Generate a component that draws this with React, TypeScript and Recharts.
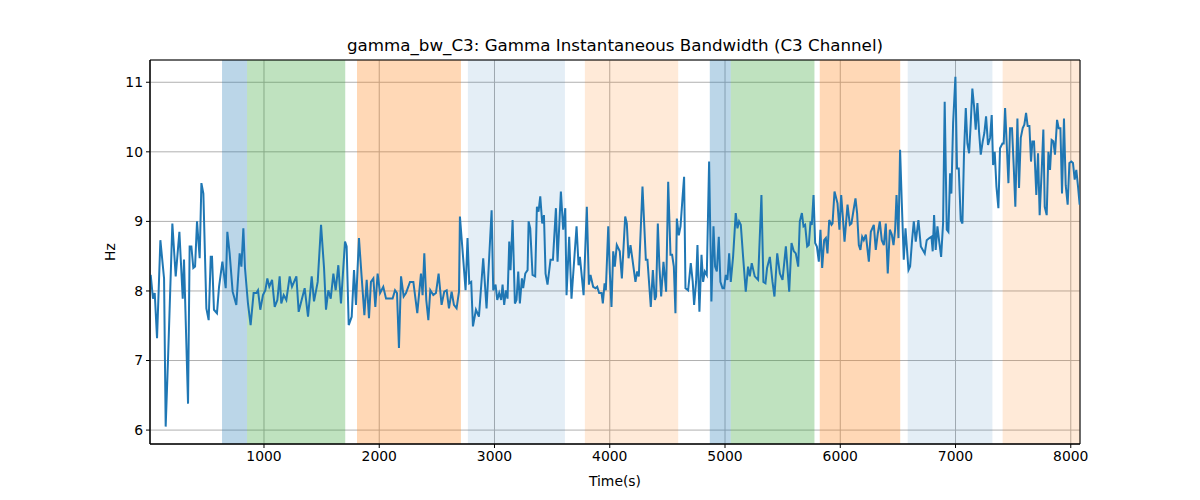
import React from 'react'
import { LineChart, Line, XAxis, YAxis, CartesianGrid, ReferenceArea, Label } from 'recharts'

// [time (s), bandwidth (Hz)], split by stretch of the recording
const seg1 = [
  [17, 8.23], [37, 7.89], [52, 7.97], [72, 7.32], [101, 8.73], [133, 8.18], [147, 6.05], [167, 7.0], [205, 8.97], [234, 8.21],
  [266, 8.85], [295, 7.89], [306, 8.45], [341, 6.38], [355, 8.64], [370, 8.64], [387, 8.33], [402, 8.35], [419, 9.0], [442, 8.47],
  [457, 9.55], [474, 9.4], [500, 7.75], [520, 7.58], [538, 8.49], [549, 8.49], [566, 7.73], [592, 7.68], [610, 8.06], [639, 8.42],
  [668, 8.04], [682, 8.85], [702, 8.54], [728, 7.99], [760, 7.8], [789, 8.54], [804, 8.35], [821, 8.9], [835, 8.33], [861, 7.82],
  [884, 7.51], [910, 7.97], [934, 7.97], [948, 8.01], [968, 7.73], [991, 7.94], [1012, 8.01], [1029, 8.18], [1046, 8.06], [1070, 8.16],
  [1093, 7.77], [1116, 7.87], [1136, 8.21], [1150, 7.82], [1171, 7.94], [1194, 7.87], [1223, 8.21], [1243, 8.06], [1281, 8.21], [1301, 7.7],
  [1330, 7.89], [1353, 8.04], [1382, 7.63],
]
const seg2 = [
  [1414, 8.21], [1434, 7.85], [1466, 8.13], [1495, 8.95], [1521, 8.33], [1538, 7.73], [1558, 8.01], [1579, 7.89], [1602, 8.25], [1622, 8.01],
  [1645, 8.37], [1668, 7.82], [1703, 8.71], [1717, 8.64], [1735, 7.51], [1761, 7.63], [1781, 8.3], [1798, 7.8], [1824, 8.76], [1847, 8.21],
  [1871, 7.65], [1891, 8.16], [1911, 7.61], [1928, 8.13], [1949, 8.18], [1966, 7.77], [1986, 8.25], [2007, 7.97], [2035, 8.06], [2059, 7.89],
  [2087, 7.89], [2116, 7.89], [2137, 8.01], [2154, 7.97], [2171, 7.18], [2189, 8.21], [2212, 7.92], [2232, 7.97], [2267, 8.13], [2296, 8.13],
  [2330, 7.68], [2362, 8.25], [2376, 7.94], [2391, 8.54], [2408, 7.87], [2426, 7.58], [2443, 8.01], [2469, 7.94], [2492, 7.97], [2515, 8.25],
  [2541, 7.8], [2564, 7.99], [2585, 8.01], [2605, 7.75], [2628, 7.99], [2648, 7.8], [2671, 7.75], [2692, 7.99],
]
const seg3 = [
  [2700, 9.07], [2729, 8.45], [2749, 8.01], [2766, 8.76], [2781, 8.11], [2798, 8.13], [2813, 7.49], [2839, 7.73], [2865, 7.63], [2902, 8.47],
  [2931, 7.75], [2975, 9.16], [2989, 8.01], [3009, 8.09], [3024, 7.87], [3041, 7.97], [3058, 7.87], [3070, 8.09], [3084, 7.8], [3099, 8.01],
  [3113, 7.89], [3128, 8.71], [3139, 8.3], [3157, 9.02], [3177, 7.82], [3191, 7.87], [3206, 8.28], [3220, 7.82], [3238, 8.18], [3249, 8.04],
  [3267, 8.25], [3287, 8.3], [3296, 9.0], [3310, 8.9], [3330, 8.23], [3353, 8.21], [3368, 9.21], [3382, 9.14], [3397, 9.36], [3414, 8.97],
  [3429, 9.09], [3443, 8.25], [3460, 8.09], [3486, 8.45], [3507, 8.45], [3533, 9.19], [3547, 8.42], [3576, 9.43], [3596, 8.88], [3614, 9.19],
  [3625, 7.94], [3648, 8.78], [3668, 7.89], [3712, 8.93], [3729, 8.37], [3741, 8.49], [3773, 7.94], [3801, 9.21], [3819, 8.09], [3833, 8.23],
  [3856, 8.06], [3877, 8.04], [3891, 8.06], [3908, 7.97], [3929, 7.97], [3940, 7.82], [3955, 8.11], [3966, 8.01], [3987, 8.93], [4001, 8.25],
  [4015, 7.77], [4030, 8.57],
]
const seg4 = [
  [4044, 8.35], [4061, 8.66], [4087, 8.57], [4105, 8.18], [4134, 9.07], [4148, 8.97], [4163, 8.47], [4180, 8.66], [4194, 8.49], [4223, 8.13],
  [4238, 8.28], [4252, 8.21], [4284, 9.5], [4313, 8.45], [4327, 8.45], [4356, 7.77], [4374, 8.3], [4391, 7.87], [4402, 7.92], [4417, 8.97],
  [4431, 8.35], [4446, 7.92], [4466, 8.42], [4489, 7.99], [4507, 9.57], [4527, 8.52], [4541, 8.52], [4556, 8.35], [4570, 7.68], [4582, 9.04],
  [4599, 8.8], [4614, 8.93], [4631, 9.33], [4645, 9.64], [4657, 8.04], [4680, 8.01], [4703, 8.4], [4720, 8.13], [4732, 7.8], [4749, 8.13],
  [4761, 8.66], [4778, 7.7], [4796, 8.52], [4810, 8.13], [4825, 8.28], [4842, 8.23], [4862, 9.86], [4882, 7.85], [4900, 8.93], [4914, 8.35],
  [4929, 8.28], [4946, 8.78], [4960, 8.13], [4978, 8.04], [4992, 8.04], [5007, 8.23], [5021, 8.16], [5036, 8.54], [5050, 8.13], [5070, 8.49],
  [5093, 9.12], [5108, 8.9], [5122, 9.0], [5137, 8.95], [5157, 8.49], [5180, 7.99], [5200, 8.35], [5215, 8.21], [5232, 8.4], [5258, 8.21],
  [5287, 8.16], [5316, 9.38], [5333, 8.13], [5351, 8.11], [5365, 8.33],
]
const seg5 = [
  [5389, 8.49], [5412, 8.13], [5429, 7.92], [5453, 8.54], [5476, 8.25], [5499, 8.16], [5528, 8.64], [5557, 7.99], [5577, 8.69], [5597, 8.57],
  [5614, 8.54], [5635, 8.35], [5649, 9.0], [5667, 9.12], [5681, 8.93], [5695, 8.95], [5713, 8.64], [5727, 8.66], [5742, 9.0], [5753, 8.95],
  [5768, 9.38], [5782, 8.69], [5797, 8.64], [5814, 8.42], [5828, 8.88], [5843, 8.33], [5860, 8.73], [5875, 8.76], [5889, 8.54], [5904, 9.02],
  [5924, 8.95], [5933, 8.97], [5950, 9.43], [5976, 9.26], [5993, 8.88], [6008, 9.38], [6022, 9.07], [6037, 8.71], [6063, 9.24], [6083, 8.95],
  [6097, 8.97], [6115, 9.16], [6132, 9.33], [6146, 9.12], [6161, 8.66], [6175, 8.59], [6190, 8.78], [6204, 8.73], [6222, 8.81], [6248, 8.42],
  [6265, 8.85], [6291, 8.95], [6308, 8.59], [6326, 8.83], [6343, 9.0], [6360, 8.73], [6378, 8.66], [6395, 8.97], [6412, 8.25], [6430, 8.88],
  [6447, 8.81], [6462, 8.66], [6476, 8.88], [6488, 9.38], [6505, 8.76], [6519, 10.03], [6534, 9.26], [6551, 8.45], [6566, 8.9], [6592, 8.3],
  [6606, 8.35], [6623, 8.73], [6638, 9.0], [6655, 8.71], [6678, 9.02], [6699, 8.64],
]
const seg6 = [
  [6733, 8.54], [6750, 8.73], [6773, 8.76], [6791, 8.78], [6802, 8.57], [6814, 9.09], [6828, 8.59], [6843, 8.93], [6857, 8.73], [6875, 8.49],
  [6892, 8.97], [6906, 10.72], [6924, 8.88], [6938, 8.85], [6953, 9.69], [6964, 9.4], [6979, 10.41], [6999, 11.08], [7013, 9.76], [7028, 9.76],
  [7045, 9.02], [7060, 8.97], [7074, 10.0], [7089, 10.63], [7103, 10.12], [7118, 9.98], [7132, 10.41], [7146, 10.91], [7161, 10.65], [7175, 10.32],
  [7190, 10.7], [7204, 10.29], [7219, 9.96], [7236, 10.15], [7250, 10.27], [7265, 10.51], [7282, 10.1], [7300, 10.2], [7314, 10.53], [7326, 9.81],
  [7340, 10.0], [7355, 9.5], [7372, 9.19], [7386, 10.05], [7407, 10.12], [7418, 10.12], [7430, 10.63], [7444, 10.12], [7459, 9.55], [7473, 10.34],
  [7490, 10.34], [7505, 9.79], [7519, 9.21], [7537, 10.48], [7551, 9.48], [7566, 10.2], [7583, 10.34], [7597, 10.39], [7612, 10.56], [7626, 10.37],
  [7641, 10.37], [7655, 9.86], [7667, 10.15], [7681, 10.15], [7701, 9.38], [7716, 9.98], [7730, 9.09], [7748, 9.74], [7762, 10.32], [7774, 9.21],
  [7791, 9.09], [7806, 10.0], [7820, 9.74], [7834, 10.17], [7849, 10.15], [7863, 9.96], [7881, 10.46], [7895, 10.34], [7910, 10.34], [7924, 9.4],
  [7941, 10.48], [7956, 9.52], [7973, 9.24], [7988, 9.84], [8005, 9.86], [8019, 9.84], [8034, 9.6], [8048, 9.74], [8063, 9.5], [8077, 9.24],
]

// shaded periods: start, end, colour, opacity
const spans: [number, number, string, number][] = [
  [636, 853, '#1f77b4', 0.3],
  [853, 1705, '#2ca02c', 0.3],
  [1807, 2709, '#ff7f0e', 0.3],
  [2769, 3611, '#1f77b4', 0.12],
  [3784, 4594, '#ff7f0e', 0.16],
  [4868, 5050, '#1f77b4', 0.3],
  [5050, 5776, '#2ca02c', 0.3],
  [5822, 6520, '#ff7f0e', 0.3],
  [6585, 7320, '#1f77b4', 0.12],
  [7409, 8080, '#ff7f0e', 0.16],
]

const xTicks = [1000, 2000, 3000, 4000, 5000, 6000, 7000, 8000]
const yTicks = [6, 7, 8, 9, 10, 11]
const xDomain = [11, 8080]
const yDomain = [5.8, 11.32]

const data = [...seg1, ...seg2, ...seg3, ...seg4, ...seg5, ...seg6].map(([t, v]) => ({ t, v }))

const font = '"DejaVu Sans", sans-serif'
const tickStyle = { fontSize: 13.9, fill: '#000', fontFamily: font }

export default function App() {
  return (
    <div style={{ position: 'absolute', left: 0, top: 0, width: 1200, height: 500, background: '#fff', fontFamily: font }}>
      <div style={{ position: 'absolute', left: 150, top: 35, width: 930, textAlign: 'center', fontSize: 16.7, lineHeight: '20px', color: '#000' }}>
        gamma_bw_C3: Gamma Instantaneous Bandwidth (C3 Channel)
      </div>
      <LineChart width={1200} height={500} data={data} margin={{ top: 60, right: 120, bottom: 10, left: 100 }}>
        {spans.map(([a, b, c, o], i) => (
          <ReferenceArea key={i} x1={a} x2={b} fill={c} fillOpacity={o} stroke="none" ifOverflow="hidden" />
        ))}
        <CartesianGrid stroke="#b0b0b0" strokeWidth={1} />
        <XAxis
          dataKey="t"
          type="number"
          domain={xDomain}
          ticks={xTicks}
          allowDataOverflow
          height={46}
          tick={tickStyle}
          tickSize={4}
          tickMargin={3}
          stroke="#000"
          tickLine={{ stroke: '#000' }}
        >
          <Label value="Time(s)" position="insideBottom" offset={4} style={{ fontSize: 13.9, fill: '#000', fontFamily: font }} />
        </XAxis>
        <YAxis
          type="number"
          domain={yDomain}
          ticks={yTicks}
          allowDataOverflow
          width={50}
          tick={tickStyle}
          tickSize={4}
          tickMargin={3}
          stroke="#000"
          tickLine={{ stroke: '#000' }}
        >
          <Label value="Hz" angle={-90} position="insideLeft" offset={10} style={{ fontSize: 13.9, fill: '#000', fontFamily: font, textAnchor: 'middle' }} />
        </YAxis>
        <ReferenceArea x1={xDomain[0]} x2={xDomain[1]} y1={yDomain[0]} y2={yDomain[1]} fill="none" stroke="#000" strokeWidth={1} />
        <Line type="linear" dataKey="v" stroke="#1f77b4" strokeWidth={2} dot={false} isAnimationActive={false} />
      </LineChart>
    </div>
  )
}
